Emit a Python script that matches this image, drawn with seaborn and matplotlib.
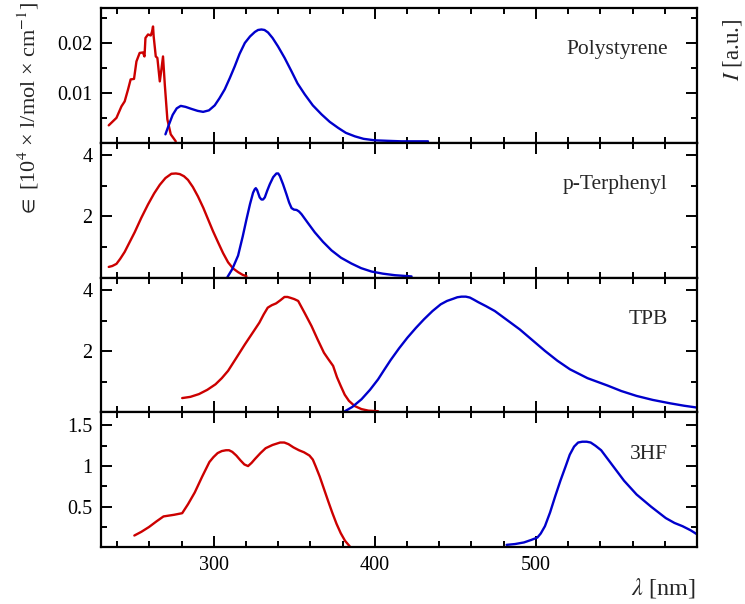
import numpy as np
import pandas as pd
import matplotlib
matplotlib.use("Agg")
import matplotlib.pyplot as plt
from matplotlib.ticker import FixedLocator
import seaborn as sns

# ---------------- data ----------------
panel_names = ["Polystyrene", "p-Terphenyl", "TPB", "3HF"]

ps_abs_nm = [234.8, 239.6, 242.7, 244.7, 246.8, 248.4, 250.5, 252.0, 254.0, 256.0, 257.0,
             257.6, 259.2, 260.9, 261.7, 262.3, 262.7, 264.0, 265.0, 266.5, 267.5, 268.5,
             269.6, 271.2, 273.3, 276.4]
ps_abs_val = [0.0035, 0.0050, 0.0073, 0.0083, 0.0107, 0.0127, 0.0128, 0.0163, 0.0180, 0.0181,
              0.0173, 0.0210, 0.0217, 0.0215, 0.0223, 0.0233, 0.0213, 0.0173, 0.0170, 0.0123,
              0.0147, 0.0173, 0.0117, 0.0047, 0.0017, 0.0003]
ps_em_nm = [270.0, 272.0, 274.5, 277.0, 279.5, 282.5, 286.1, 290.0, 293.4, 297.0, 300.6,
            303.5, 306.8, 310.0, 313.0, 316.0, 319.3, 322.5, 325.5, 327.5, 329.6, 331.5,
            333.7, 336.5, 339.9, 344.0, 348.3, 352.0, 356.5, 361.5, 366.9, 372.0, 377.2,
            382.0, 387.6, 393.0, 400.0, 408.0, 416.6, 433.0]
ps_em_val = [0.0017, 0.0035, 0.0056, 0.0069, 0.0074, 0.0072, 0.0068, 0.0064, 0.0062, 0.0065,
             0.0075, 0.0089, 0.0107, 0.0130, 0.0153, 0.0178, 0.0200, 0.0213, 0.0222, 0.0226,
             0.0227, 0.0226, 0.0221, 0.0210, 0.0193, 0.0170, 0.0143, 0.0119, 0.0097, 0.0075,
             0.0057, 0.0042, 0.0030, 0.0020, 0.0013, 0.0008, 0.0005, 0.0004, 0.0003, 0.0003]

pt_abs_nm = [234.8, 237.0, 239.6, 242.0, 244.7, 247.5, 250.9, 255.0, 259.2, 263.0, 266.5,
             270.0, 273.7, 276.5, 278.9, 281.5, 284.0, 287.0, 290.2, 293.5, 296.5, 299.5,
             302.7, 305.8, 308.9, 312.0, 315.1, 318.0, 320.3]
pt_abs_val = [0.35, 0.38, 0.45, 0.62, 0.84, 1.13, 1.48, 1.95, 2.39, 2.75, 3.03, 3.25, 3.39,
              3.40, 3.38, 3.31, 3.19, 2.96, 2.65, 2.28, 1.90, 1.52, 1.15, 0.80, 0.50, 0.30,
              0.18, 0.09, 0.05]
pt_em_nm = [308.5, 311.5, 315.1, 318.0, 320.3, 322.5, 324.4, 325.4, 326.1, 326.9, 327.5,
            328.5, 329.6, 330.6, 331.7, 333.2, 334.8, 336.9, 338.9, 340.0, 341.0, 343.0,
            345.2, 346.8, 348.3, 349.8, 351.4, 352.9, 354.5, 358.5, 362.7, 367.8, 373.1,
            379.0, 385.5, 391.5, 397.9, 405.0, 412.4, 422.8]
pt_em_val = [0.02, 0.28, 0.72, 1.35, 1.90, 2.40, 2.77, 2.88, 2.92, 2.86, 2.77, 2.62, 2.55,
             2.55, 2.62, 2.84, 3.05, 3.28, 3.40, 3.40, 3.32, 3.05, 2.71, 2.45, 2.27, 2.22,
             2.21, 2.16, 2.07, 1.78, 1.48, 1.17, 0.89, 0.65, 0.46, 0.31, 0.20, 0.13, 0.08,
             0.04]

tpb_abs_nm = [280.4, 285.5, 290.8, 296.0, 301.1, 305.0, 308.9, 314.0, 319.3, 324.0, 328.3,
              331.0, 333.5, 336.0, 338.7, 341.3, 343.9, 345.8, 347.7, 350.0, 352.4, 356.5,
              360.7, 364.5, 368.4, 371.0, 374.1, 376.5, 378.8, 381.3, 383.9, 387.5, 391.7,
              396.0, 402.0]
tpb_abs_val = [0.47, 0.51, 0.60, 0.74, 0.92, 1.12, 1.36, 1.78, 2.22, 2.59, 2.93, 3.20, 3.42,
               3.50, 3.56, 3.66, 3.77, 3.77, 3.74, 3.70, 3.64, 3.24, 2.82, 2.38, 1.95, 1.75,
               1.52, 1.15, 0.87, 0.58, 0.38, 0.21, 0.11, 0.06, 0.04]
tpb_em_nm = [381.4, 386.0, 391.7, 397.0, 402.0, 405.8, 409.8, 415.0, 420.2, 425.5, 430.5,
             435.8, 440.9, 444.8, 448.6, 451.2, 453.8, 456.5, 459.0, 461.5, 464.2, 469.0,
             474.5, 482.0, 490.0, 497.8, 505.6, 513.3, 521.1, 532.0, 544.4, 553.0, 562.5,
             572.5, 583.2, 592.0, 600.0]
tpb_em_val = [0.04, 0.18, 0.43, 0.74, 1.08, 1.39, 1.71, 2.09, 2.44, 2.76, 3.04, 3.31, 3.53,
              3.64, 3.71, 3.76, 3.78, 3.78, 3.75, 3.68, 3.60, 3.47, 3.31, 3.02, 2.71, 2.36,
              2.01, 1.69, 1.41, 1.12, 0.88, 0.70, 0.54, 0.41, 0.30, 0.22, 0.16]

hf_abs_nm = [250.7, 255.0, 259.8, 264.5, 268.8, 272.0, 275.3, 280.4, 284.0, 288.2, 292.8,
             297.3, 299.8, 302.4, 305.0, 307.6, 309.5, 311.5, 314.0, 316.6, 319.0, 321.3,
             323.5, 325.7, 329.0, 332.2, 336.5, 341.2, 343.8, 346.4, 349.5, 352.9, 356.0,
             359.4, 361.5, 363.2, 365.8, 368.4, 371.0, 373.6, 376.2, 378.8, 381.5, 384.5]
hf_abs_val = [0.145, 0.19, 0.25, 0.32, 0.38, 0.39, 0.40, 0.42, 0.53, 0.675, 0.87, 1.05, 1.11,
              1.16, 1.185, 1.195, 1.195, 1.175, 1.13, 1.07, 1.02, 1.00, 1.04, 1.09, 1.16,
              1.22, 1.26, 1.29, 1.29, 1.27, 1.23, 1.195, 1.17, 1.13, 1.08, 1.00, 0.87, 0.72,
              0.57, 0.425, 0.29, 0.175, 0.08, 0.01]
hf_em_nm = [481.8, 487.0, 492.6, 497.0, 500.9, 503.0, 505.6, 508.8, 512.0, 515.2, 518.5,
            521.0, 523.7, 526.2, 528.8, 531.5, 534.0, 537.0, 540.5, 547.5, 554.7, 562.5,
            571.5, 580.6, 586.0, 591.0, 596.0, 600.0]
hf_em_val = [0.03, 0.04, 0.06, 0.09, 0.12, 0.17, 0.26, 0.43, 0.63, 0.82, 1.00, 1.14, 1.24,
             1.29, 1.30, 1.30, 1.29, 1.25, 1.195, 1.01, 0.82, 0.65, 0.50, 0.36, 0.30, 0.26,
             0.21, 0.16]

y_limits = [(0, 0.027), (0, 4.4), (0, 4.4), (0, 1.66)]
y_major = [[0.01, 0.02], [2, 4], [2, 4], [0.5, 1, 1.5]]
y_minor = [[0.005, 0.015, 0.025], [1, 3], [1, 3], [0.25, 0.75, 1.25]]
y_ticklabels = [["0.01", "0.02"], ["2", "4"], ["2", "4"], ["0.5", "1", "1.5"]]
x_major = [300, 400, 500]
x_ticklabels = ["300", "400", "500"]

# ---------------- style ----------------
sns.set_theme(style="ticks")
plt.rcParams["font.family"] = ["Liberation Serif", "DejaVu Serif"]
plt.rcParams["mathtext.fontset"] = "stix"

RED = "#cc0000"
BLUE = "#0000cc"

fig, axes = plt.subplots(4, 1, sharex=True, figsize=(7.45, 6.04), dpi=100,
                         gridspec_kw=dict(hspace=0))
fig.subplots_adjust(left=101 / 745, right=697 / 745, top=1 - 8 / 604, bottom=1 - 547.3 / 604)

abs_data = [(ps_abs_nm, ps_abs_val), (pt_abs_nm, pt_abs_val),
            (tpb_abs_nm, tpb_abs_val), (hf_abs_nm, hf_abs_val)]
em_data = [(ps_em_nm, ps_em_val), (pt_em_nm, pt_em_val),
           (tpb_em_nm, tpb_em_val), (hf_em_nm, hf_em_val)]

for i, ax in enumerate(axes):
    df_abs = pd.DataFrame({"nm": abs_data[i][0], "val": abs_data[i][1]})
    df_em = pd.DataFrame({"nm": em_data[i][0], "val": em_data[i][1]})
    sns.lineplot(data=df_abs, x="nm", y="val", ax=ax, color=RED, lw=1.7,
                 estimator=None, sort=False)
    sns.lineplot(data=df_em, x="nm", y="val", ax=ax, color=BLUE, lw=1.7,
                 estimator=None, sort=False)
    ax.set_xlim(230, 600)
    ax.set_ylim(*y_limits[i])
    ax.set_xlabel("")
    ax.set_ylabel("")
    ax.yaxis.set_major_locator(FixedLocator(y_major[i]))
    ax.set_yticklabels(y_ticklabels[i])
    ax.yaxis.set_minor_locator(FixedLocator(y_minor[i]))
    ax.xaxis.set_major_locator(FixedLocator(x_major))
    ax.xaxis.set_minor_locator(FixedLocator(list(range(240, 600, 20))))
    ax.tick_params(which="both", direction="in", top=True, right=True,
                   width=1.4, labelsize=14.5, pad=6, colors="black")
    ax.tick_params(which="major", length=8)
    ax.tick_params(which="minor", length=4)
    for sp in ax.spines.values():
        sp.set_linewidth(1.6)
        sp.set_color("black")
        sp.set_visible(True)
    ax.text(0.951, 0.69, panel_names[i], transform=ax.transAxes, ha="right",
            va="center", fontsize=15.5)

axes[-1].set_xticklabels(x_ticklabels)

fig.text(28 / 745, 1 - 109 / 604, r"$\in$ [10$^4$ × l/mol × cm$^{-1}$]",
         rotation=90, ha="center", va="center", fontsize=16)
fig.text(732 / 745, 1 - 50 / 604, r"$I$ [a.u.]", rotation=90, ha="center",
         va="center", fontsize=16.5)
fig.text(696 / 745, 1 - 588 / 604, r"$\lambda$ [nm]", ha="right", va="center",
         fontsize=17.5)

fig.savefig("out.png", dpi=100)
